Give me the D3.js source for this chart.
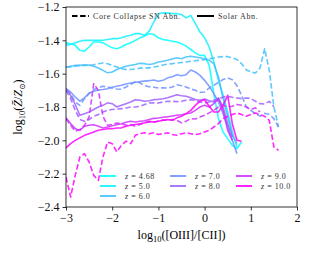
<!DOCTYPE html>
<html>
<head>
<meta charset="utf-8">
<script src="https://cdn.jsdelivr.net/npm/d3@7"></script>
<style>
  body { margin: 0; background: #fff; }
  text { font-family: "Liberation Serif", "DejaVu Serif", serif; }
</style>
</head>
<body>
<div id="chart"></div>
<script>
// x positions shared by every curve: log10([OIII]/[CII])
const xGrid = [-3.0,-2.9,-2.8,-2.7,-2.6,-2.5,-2.4,-2.3,-2.2,-2.1,-2.0,-1.9,-1.8,-1.7,-1.6,-1.5,-1.4,-1.3,-1.2,-1.1,
  -1.0,-0.9,-0.8,-0.7,-0.6,-0.5,-0.4,-0.3,-0.2,-0.1,0.0,0.1,0.2,0.3,0.4,0.5,0.6,0.7,0.8,0.9,1.0,1.1,1.2,1.3,1.4,1.5,1.6];

const redshifts = [4.68, 5.0, 6.0, 7.0, 8.0, 9.0, 10.0];
const redshiftLabels = ["4.68", "5.0", "6.0", "7.0", "8.0", "9.0", "10.0"];

// solar abundance curves
const solar_z468 = [-1.415,-1.42,-1.43,-1.46,-1.465,-1.44,-1.41,-1.41,-1.415,-1.43,
  -1.445,-1.45,-1.44,-1.425,-1.415,-1.40,-1.385,-1.375,-1.36,-1.365,
  -1.385,-1.395,-1.40,-1.405,-1.41,-1.42,-1.435,-1.455,-1.475,-1.49,
  -1.49,-1.55,-1.72,-1.87,-1.95,-1.99,-2.03,-2.05,-2.01];
const solar_z50 = [-1.43,-1.425,-1.415,-1.405,-1.40,-1.40,-1.40,-1.40,-1.40,-1.395,
  -1.39,-1.39,-1.385,-1.375,-1.37,-1.36,-1.36,-1.37,-1.345,-1.29,
  -1.24,-1.235,-1.235,-1.24,-1.24,-1.245,-1.265,-1.25,-1.30,-1.35,
  -1.385,-1.44,-1.53,-1.64,-1.73,-1.83,-1.95,-2.04];
const solar_z60 = [-1.56,-1.555,-1.55,-1.55,-1.548,-1.548,-1.555,-1.566,-1.58,-1.595,
  -1.59,-1.575,-1.565,-1.555,-1.55,-1.545,-1.538,-1.54,-1.545,-1.54,
  -1.53,-1.525,-1.52,-1.512,-1.505,-1.51,-1.50,-1.495,-1.50,-1.505,
  -1.51,-1.52,-1.54,-1.62,-1.75,-1.86,-1.97,-2.02];
const solar_z70 = [-1.69,-1.71,-1.74,-1.765,-1.745,-1.716,-1.705,-1.698,-1.695,-1.69,
  -1.682,-1.676,-1.67,-1.662,-1.656,-1.652,-1.648,-1.645,-1.642,-1.638,
  -1.645,-1.64,-1.625,-1.618,-1.606,-1.612,-1.606,-1.578,-1.59,-1.61,
  -1.64,-1.675,-1.72,-1.77,-1.84,-1.92,-2.00,-2.08];
const solar_z80 = [-1.69,-1.73,-1.785,-1.85,-1.84,-1.83,-1.815,-1.80,-1.79,-1.775,
  -1.78,-1.80,-1.79,-1.78,-1.77,-1.756,-1.76,-1.766,-1.762,-1.756,
  -1.754,-1.75,-1.745,-1.735,-1.726,-1.732,-1.736,-1.745,-1.755,-1.76,
  -1.752,-1.762,-1.77,-1.745,-1.80,-1.90,-1.98];
const solar_z90 = [-1.865,-1.90,-1.93,-1.94,-1.915,-1.91,-1.906,-1.915,-1.926,-1.92,
  -1.912,-1.906,-1.90,-1.892,-1.886,-1.89,-1.886,-1.882,-1.875,-1.868,
  -1.866,-1.862,-1.858,-1.854,-1.85,-1.846,-1.84,-1.836,-1.82,-1.80,
  -1.79,-1.80,-1.78,-1.75,-1.82,-1.94,-2.00];
const solar_z100 = [-2.045,-2.02,-2.00,-1.985,-1.97,-1.96,-1.95,-1.94,-1.935,-1.93,
  -1.93,-1.926,-1.925,-1.915,-1.91,-1.905,-1.90,-1.895,-1.886,-1.89,
  -1.885,-1.88,-1.875,-1.88,-1.865,-1.856,-1.84,-1.82,-1.79,-1.765,
  -1.756,-1.795,-1.83,-1.83,-1.79,-1.73,-1.90,-2.00,-2.005];

// core collapse SN abundance curves
const sn_z60 = [-1.56,-1.56,-1.555,-1.55,-1.55,-1.55,-1.547,-1.54,-1.536,-1.54,
  -1.55,-1.56,-1.57,-1.575,-1.575,-1.572,-1.567,-1.565,-1.565,-1.56,
  -1.555,-1.548,-1.543,-1.54,-1.536,-1.533,-1.53,-1.526,-1.522,-1.519,
  -1.516,-1.51,-1.506,-1.50,-1.498,-1.498,-1.505,-1.515,-1.54,-1.576,
  -1.59,-1.596,-1.566,-1.45,-1.58,-1.80,-1.92];
const sn_z70 = [-1.70,-1.72,-1.77,-1.79,-1.75,-1.72,-1.695,-1.685,-1.676,-1.68,
  -1.686,-1.692,-1.694,-1.68,-1.665,-1.648,-1.655,-1.672,-1.678,-1.682,
  -1.686,-1.685,-1.686,-1.68,-1.666,-1.672,-1.68,-1.692,-1.70,-1.712,
  -1.71,-1.686,-1.67,-1.652,-1.635,-1.626,-1.636,-1.672,-1.73,-1.796,
  -1.82,-1.84,-1.855,-1.838,-1.845,-1.87,-1.92];
const sn_z80 = [-1.70,-1.75,-1.82,-1.875,-1.886,-1.875,-1.856,-1.845,-1.83,-1.82,
  -1.815,-1.812,-1.81,-1.806,-1.80,-1.80,-1.796,-1.785,-1.776,-1.775,
  -1.776,-1.77,-1.766,-1.766,-1.768,-1.766,-1.76,-1.756,-1.76,-1.77,
  -1.776,-1.77,-1.76,-1.752,-1.74,-1.736,-1.742,-1.746,-1.75,-1.746,
  -1.748,-1.766,-1.78,-1.782,-1.766,-1.80];
const sn_z90 = [-1.87,-1.91,-1.945,-1.935,-1.91,-1.86,-1.66,-1.70,-1.856,-1.91,
  -1.905,-1.896,-1.90,-1.91,-1.905,-1.915,-1.905,-1.895,-1.89,-1.892,
  -1.884,-1.878,-1.88,-1.875,-1.88,-1.895,-1.885,-1.87,-1.872,-1.86,
  -1.85,-1.835,-1.82,-1.80,-1.79,-1.80,-1.795,-1.785,-1.79,-1.80,
  -1.815,-1.805,-1.83];
const sn_z100 = [-2.22,-2.34,-2.21,-2.10,-2.08,-2.13,-2.21,-2.24,-2.10,-2.01,
  -2.02,-2.07,-2.03,-2.005,-2.02,-1.97,-1.96,-1.955,-1.96,-1.955,
  -1.965,-1.96,-1.955,-1.965,-1.97,-1.96,-1.955,-1.96,-1.965,-1.96,
  -1.95,-1.94,-1.92,-1.90,-1.87,-1.856,-1.845,-1.836,-1.845,-1.856,
  -1.845,-1.836,-1.846,-1.856,-1.88,-2.04,-2.06];

const xTicks = [-3, -2, -1, 0, 1, 2];
const yTicks = [-2.4, -2.2, -2.0, -1.8, -1.6, -1.4, -1.2];

// table of curves, drawn in this order
const series = [
  {z: 4.68, dashed: false, values: solar_z468},
  {z: 5.0,  dashed: false, values: solar_z50},
  {z: 6.0,  dashed: false, values: solar_z60},
  {z: 6.0,  dashed: true,  values: sn_z60},
  {z: 7.0,  dashed: false, values: solar_z70},
  {z: 7.0,  dashed: true,  values: sn_z70},
  {z: 8.0,  dashed: false, values: solar_z80},
  {z: 8.0,  dashed: true,  values: sn_z80},
  {z: 9.0,  dashed: false, values: solar_z90},
  {z: 9.0,  dashed: true,  values: sn_z90},
  {z: 10.0, dashed: true,  values: sn_z100},
  {z: 10.0, dashed: false, values: solar_z100}
];

// matplotlib "cool" colormap over the redshift range
const zExtent = d3.extent(redshifts);
const color = z => {
  const t = (z - zExtent[0]) / (zExtent[1] - zExtent[0]);
  return d3.rgb(255 * t, 255 * (1 - t), 255).formatHex();
};

const W = 331, H = 257;
const margin = {top: 7, right: 34, bottom: 50, left: 66},
    width = W - margin.left - margin.right,
    height = H - margin.top - margin.bottom;

const svg = d3.select("#chart").append("svg")
    .attr("width", W).attr("height", H);
const g = svg.append("g")
    .attr("transform", `translate(${margin.left}, ${margin.top})`);

const x = d3.scaleLinear().domain([-3, 2]).range([0, width]);
const y = d3.scaleLinear().domain([-2.4, -1.2]).range([height, 0]);

g.append("clipPath").attr("id", "clip")
  .append("rect").attr("width", width).attr("height", height);

const line = d3.line()
    .x((d, i) => x(xGrid[i]))
    .y(d => y(d));

g.append("g").attr("clip-path", "url(#clip)")
  .selectAll("path")
  .data(series)
  .join("path")
    .attr("d", d => line(d.values))
    .attr("fill", "none")
    .attr("stroke", d => color(d.z))
    .attr("stroke-opacity", 0.85)
    .attr("stroke-width", 1.6)
    .attr("stroke-linejoin", "round")
    .attr("stroke-dasharray", d => d.dashed ? "5.5,2.6" : null);

// axes
const fmtMinus = s => s.replace("-", "\u2212");
const xAxis = g.append("g")
    .attr("transform", `translate(0, ${height})`)
    .call(d3.axisBottom(x).tickValues(xTicks).tickSize(3.5).tickPadding(3)
      .tickFormat(d => fmtMinus(d3.format("d")(d))));
const yAxis = g.append("g")
    .call(d3.axisLeft(y).tickValues(yTicks).tickSize(3.5).tickPadding(3)
      .tickFormat(d => fmtMinus(d3.format(".1f")(d))));
[xAxis, yAxis].forEach(a => {
  a.attr("font-family", null);
  a.select(".domain").remove();
  a.selectAll("line").attr("stroke", "#000").attr("stroke-width", 0.8);
  a.selectAll("text").attr("font-size", 12).attr("fill", "#111");
});

g.append("rect")
    .attr("width", width).attr("height", height)
    .attr("fill", "none").attr("stroke", "#000").attr("stroke-width", 0.8);

// axis labels
const xl = svg.append("text")
    .attr("x", margin.left + width / 2).attr("y", 239)
    .attr("text-anchor", "middle").attr("font-size", 12);
xl.append("tspan").text("log");
xl.append("tspan").attr("font-size", 8.5).attr("dy", 3).text("10");
xl.append("tspan").attr("dy", -3).text("([OIII]/[CII])");

const yl = svg.append("text")
    .attr("transform", `translate(22, ${margin.top + height / 2}) rotate(-90)`)
    .attr("text-anchor", "middle").attr("font-size", 12);
yl.append("tspan").text("log");
yl.append("tspan").attr("font-size", 8.5).attr("dy", 3).text("10");
yl.append("tspan").attr("dy", -3).text("(");
yl.append("tspan").attr("font-style", "italic").text("Z\u0304");
yl.append("tspan").text("/");
yl.append("tspan").attr("font-style", "italic").text("Z");
yl.append("tspan").attr("font-size", 8).attr("dy", 2.5)
  .style("font-family", "'DejaVu Sans', sans-serif").text("\u2299");
yl.append("tspan").attr("dy", -2.5).text(")");

// style legend (top)
const styleLegend = [
  {label: "Core Collapse SN Abn.", dashed: true, x0: 72},
  {label: "Solar Abn.", dashed: false, x0: 197}
];
const sl = svg.append("g").selectAll("g").data(styleLegend).join("g")
    .attr("transform", d => `translate(${d.x0}, 16)`);
sl.append("line").attr("x1", 0).attr("x2", 17)
    .attr("stroke", "#000").attr("stroke-width", 2)
    .attr("stroke-dasharray", d => d.dashed ? "5.5,2.6" : null);
sl.append("text").attr("x", 21).attr("y", 2.8)
    .attr("font-size", 8).attr("letter-spacing", 0.6).attr("fill", "#333")
    .text(d => d.label);

// redshift legend (bottom): columns of 3, 2, 2 entries
const legendCol = [0, 0, 0, 1, 1, 2, 2];
const legendRow = [0, 1, 2, 0, 1, 0, 1];
const colX = [100, 170, 236];
const rowY = [176, 186, 196];
const zl = svg.append("g").selectAll("g").data(redshifts).join("g")
    .attr("transform", (d, i) => `translate(${colX[legendCol[i]]}, ${rowY[legendRow[i]]})`);
zl.append("line").attr("x1", 0).attr("x2", 16)
    .attr("stroke", d => color(d)).attr("stroke-width", 2).attr("stroke-opacity", 0.85);
const zt = zl.append("text").attr("x", 25).attr("y", 2.8)
    .attr("font-size", 8).attr("letter-spacing", 0.5).attr("fill", "#333");
zt.append("tspan").attr("font-style", "italic").text("z");
zt.append("tspan").text((d, i) => " = " + redshiftLabels[i]);
</script>
</body>
</html>
